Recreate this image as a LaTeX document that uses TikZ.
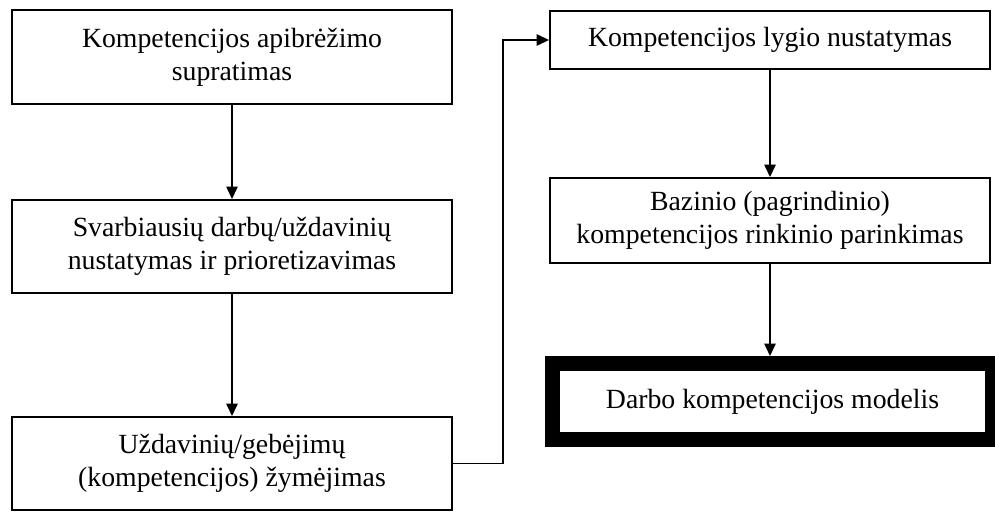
\documentclass[tikz,border=0pt]{standalone}
\usepackage{fontspec}
\setmainfont{Liberation Serif}
\usetikzlibrary{arrows.meta, positioning}

\begin{document}
\begin{tikzpicture}[>={Triangle[length=0.25cm, width=0.23cm]}, font=\fontsize{15.8}{18.8}\selectfont]
	% --- Parametri ---
	\def\boxW{8.8}
	\def\leftX{4.64}
	\def\rightX{15.4}
	
	% --- Stili ---
	\tikzset{
		stepbox/.style={draw=black, line width=1.1pt, align=center, inner sep=0pt, minimum width=\boxW cm},
		finalbox/.style={draw=black, line width=0.3cm, align=center, inner sep=0pt, minimum width=8.79cm, minimum height=1.52cm},
		arr/.style={->, draw=black, line width=0.85pt}
	}
	
	% --- Cornice ---
	\useasboundingbox (0,0) rectangle (19.9,-10.22);
	
	% --- Colonna sinistra ---
	\node[stepbox, minimum height=1.88cm] (b1) at (\leftX,-1.14) {Kompetencijos apibrėžimo\\supratimas};
	\node[stepbox, minimum height=1.86cm] (b2) at (\leftX,-4.93) {Svarbiausių darbų/uždavinių\\nustatymas ir prioretizavimas};
	\node[stepbox, minimum height=1.86cm] (b3) at (\leftX,-9.27) {Uždavinių/gebėjimų\\(kompetencijos) žymėjimas};
	
	% --- Colonna destra ---
	\node[stepbox, minimum height=1.16cm] (b4) at (\rightX,-0.8) {Kompetencijos lygio nustatymas};
	\node[stepbox, minimum height=1.7cm] (b5) at (\rightX,-4.41) {Bazinio (pagrindinio)\\kompetencijos rinkinio parinkimas};
	\node[finalbox] (b6) at (15.45,-8.03) {Darbo kompetencijos modelis};
	
	% --- Frecce ---
	\draw[arr] (b1) -- (b2);
	\draw[arr] (b2) -- (b3);
	\draw[arr] (b3.east) -- ++(1.0,0) coordinate (turn) |- (b4.west);
	\draw[arr] (b4) -- (b5);
	\draw[arr] (b5.south) -- (b5.south |- b6.north);
\end{tikzpicture}
\end{document}
